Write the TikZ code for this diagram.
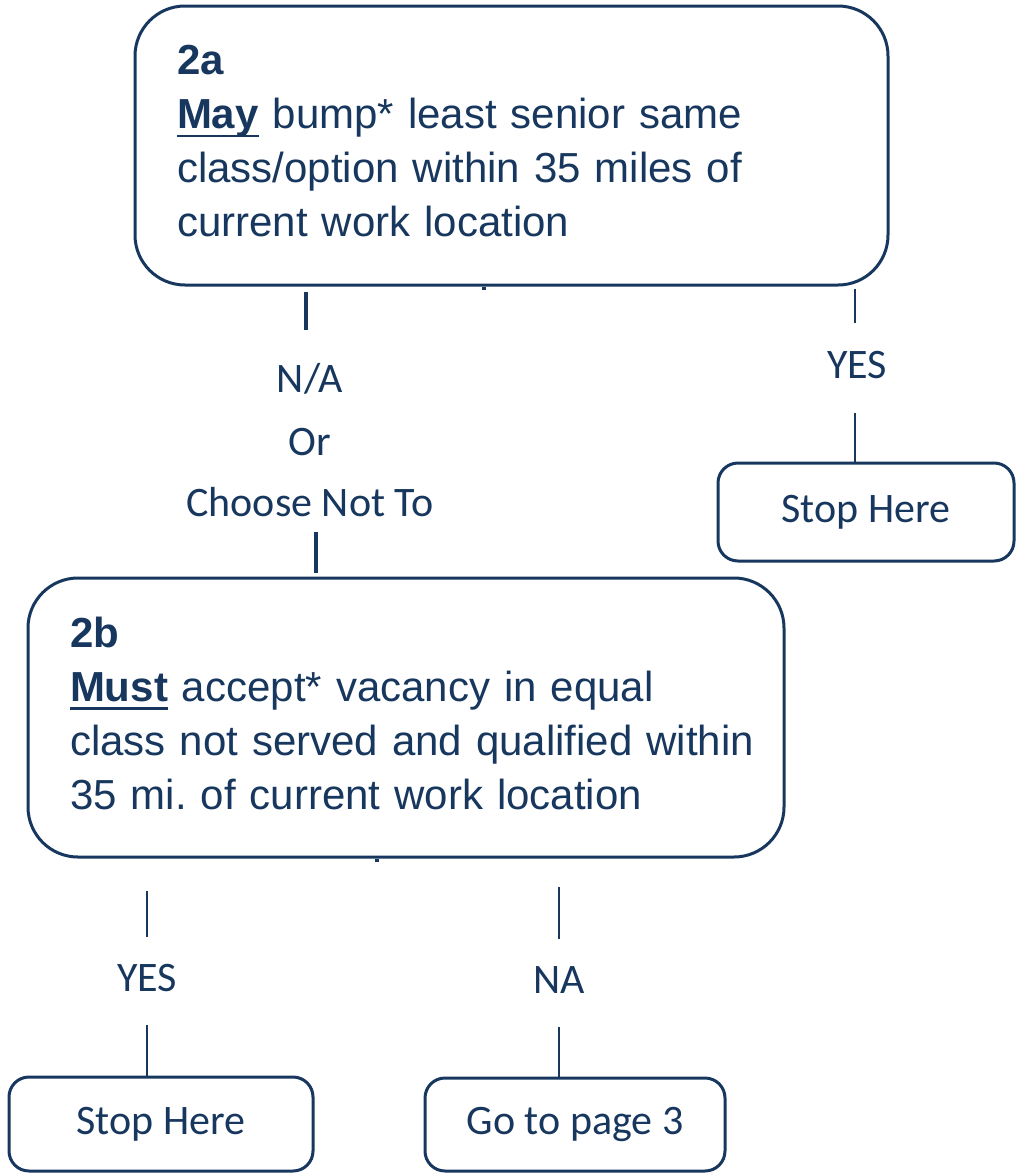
\documentclass[tikz,border=0pt]{standalone}
\usepackage{fontspec}
\setmainfont{Liberation Sans}
\newfontfamily\calfont{Carlito}
\newcommand\myul[1]{\setbox0\hbox{#1}\rlap{\vrule height -3pt depth 4.2pt width \wd0}\box0\relax}
\definecolor{navy}{RGB}{23,55,94}
\frenchspacing
\begin{document}
\begin{tikzpicture}[x=0.5pt,y=-0.5pt,
  every node/.style={text=navy},
  bigbox/.style={draw=navy, line width=1.5pt, rounded corners=25pt, minimum height=139.5pt,
    inner xsep=21pt, inner ysep=0pt, align=left, font=\fontsize{21}{27}\selectfont},
  smallbox/.style={draw=navy, line width=1.5pt, rounded corners=10pt, inner sep=0pt,
    font=\calfont\fontsize{21}{25}\selectfont},
  lbl/.style={inner sep=0pt, font=\calfont\fontsize{21}{25}\selectfont},
  conn/.style={draw=navy, line width=1pt},
  thickconn/.style={draw=navy, line width=1.6pt},
]
\useasboundingbox (0,0) rectangle (1016,1173);

% boxes
\node[bigbox, text width=334.5pt] (a2) at (511.5,145.5)
  {\textbf{2a}\\
   \mbox{\myul{\textbf{May}} bump* least senior same}\\
   \mbox{class/option within 35 miles of}\\
   \mbox{current work location}\vphantom{g}};
\node[bigbox, text width=336pt] (b2) at (406,717.5)
  {\textbf{2b}\\
   \mbox{\myul{\textbf{Must}} accept* vacancy in equal}\\
   \mbox{class not served and qualified within}\\
   \mbox{35 mi. of current work location}\vphantom{g}};
\node[smallbox, minimum width=148pt, minimum height=49pt] (s1) at (866,512) {Stop Here};
\node[smallbox, minimum width=152pt, minimum height=47pt] (s2) at (161,1124) {Stop Here};
\node[smallbox, minimum width=150pt, minimum height=46.5pt] (g3) at (575,1124.5) {Go to page 3};

% labels
\node[lbl, anchor=base] (lna1) at (310,392) {N/A};
\node[lbl, anchor=base] (lna2) at (310,455) {Or};
\node[lbl, anchor=base] (lna3) at (310,516) {Choose Not To};
\node[lbl, anchor=base] (lyes1) at (857,378) {YES};
\node[lbl, anchor=base] (lyes2) at (147,991) {YES};
\node[lbl, anchor=base] (lna) at (559,993) {NA};

% connector pieces
\coordinate (t1) at (306,292); \coordinate (t2) at (306,330);
\coordinate (t3) at (316,532); \coordinate (t4) at (316,573);
\draw[thickconn] (t1) -- (t2);
\draw[thickconn] (t3) -- (t4);
\coordinate (k1) at (484,290);
\draw[thickconn] (a2.south -| k1) -- (k1);
\coordinate (k2) at (377,862);
\draw[thickconn] (b2.south -| k2) -- (k2);

\coordinate (r1) at (855,289); \coordinate (r2) at (855,323); \coordinate (r3) at (855,413);
\draw[conn] (r1) -- (r2);
\draw[conn] (r3) -- (r3 |- s1.north);

\coordinate (y1) at (147,891); \coordinate (y2) at (147,937); \coordinate (y3) at (147,1025);
\draw[conn] (y1) -- (y2);
\draw[conn] (y3) -- (y3 |- s2.north);

\coordinate (n1) at (559,887); \coordinate (n2) at (559,939); \coordinate (n3) at (559,1027);
\draw[conn] (n1) -- (n2);
\draw[conn] (n3) -- (n3 |- g3.north);
\end{tikzpicture}
\end{document}
